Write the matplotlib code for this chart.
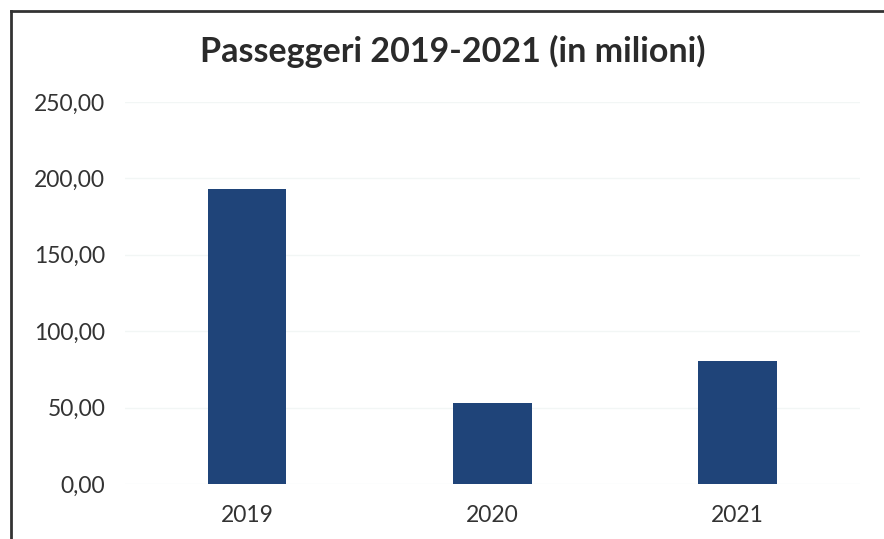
import matplotlib
matplotlib.use('agg')
from matplotlib import pyplot as plt
from matplotlib.lines import Line2D
from matplotlib.ticker import FuncFormatter

years = ["2019", "2020", "2021"]
passengers = [193.0, 53.0, 80.5]
y_ticks = [0, 50, 100, 150, 200, 250]
title = "Passeggeri 2019-2021 (in milioni)"

plt.rcParams['font.family'] = ['Lato', 'DejaVu Sans']

fig = plt.figure(figsize=(8.84, 5.39), dpi=100)
ax = fig.add_axes([0.141, 0.102, 0.832, 0.709])

x = list(range(len(years)))
ax.bar(x, passengers, width=0.32, color='#1f4479', zorder=3)

ax.set_xlim(-0.5, 2.5)
ax.set_ylim(0, 250)
ax.set_yticks(y_ticks)
ax.yaxis.set_major_formatter(FuncFormatter(lambda v, p: f"{v:.2f}".replace(".", ",")))
ax.set_xticks(x)
ax.set_xticklabels(years)

ax.grid(axis='y', color='#f2f6f5', linewidth=1, zorder=0)
for s in ax.spines.values():
    s.set_visible(False)
ax.tick_params(axis='y', length=0, pad=14, labelsize=16.5, labelcolor='#333333')
ax.tick_params(axis='x', length=0, pad=15, labelsize=16.5, labelcolor='#333333')

fig.text(0.512, 0.904, title, ha='center', va='center', fontsize=24.5,
         fontweight='bold', color='#2a2a2a')

# cornice della scansione
fig.add_artist(Line2D([0.012, 0.012], [0.0, 0.980], transform=fig.transFigure,
                      color='#333333', linewidth=2))
fig.add_artist(Line2D([0.012, 1.0], [0.980, 0.980], transform=fig.transFigure,
                      color='#333333', linewidth=2))

plt.savefig("out.png", dpi=100)
